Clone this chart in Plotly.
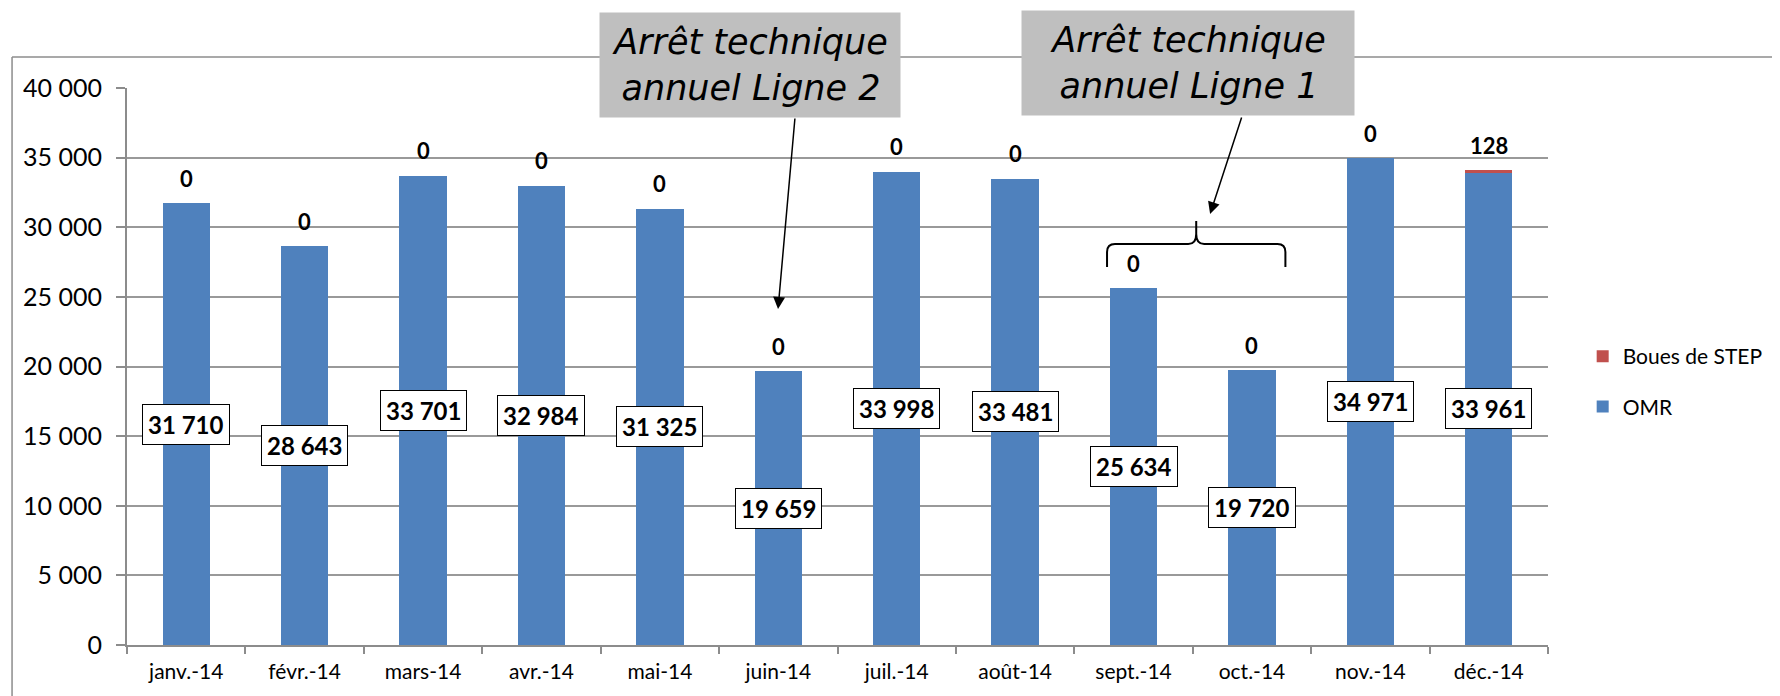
import plotly.graph_objects as go

months = ["janv.-14", "févr.-14", "mars-14", "avr.-14", "mai-14", "juin-14",
          "juil.-14", "août-14", "sept.-14", "oct.-14", "nov.-14", "déc.-14"]
omr = [31710, 28643, 33701, 32984, 31325, 19659, 33998, 33481, 25634, 19720, 34971, 33961]
boues = [0, 0, 0, 0, 0, 0, 0, 0, 0, 0, 0, 128]

W, H = 1780, 696
OFF = 8  # page body margin
L, R, T, B = 127, 1561, 88, 645  # plot area in page pixels


def px(x, y):
    """page pixel position -> paper coords"""
    return (x - L) / (R - L), (B - y) / (B - T)


def fmt(v):
    return f"{v:,}".replace(",", " ")


fig = go.Figure()
fig.add_trace(go.Bar(x=months, y=omr, name="OMR", marker=dict(color="#4F81BD", line=dict(width=0)),
                     legendgroup="omr", legendrank=2))
fig.add_trace(go.Bar(x=months, y=boues, name="Boues de STEP",
                     marker=dict(color="#C0504D", line=dict(width=0)), legendgroup="boues",
                     legendrank=1))

# boxed OMR labels in the middle of each bar
for m, v in zip(months, omr):
    fig.add_annotation(x=m, y=v / 2, text=f"<b>{fmt(v)}</b>", showarrow=False,
                       font=dict(family="Lato", size=24, color="black"),
                       bgcolor="white", bordercolor="black", borderwidth=1, borderpad=5)

# Boues labels above the stack
for m, v, b in zip(months, omr, boues):
    fig.add_annotation(x=m, y=v + b, text=f"<b>{fmt(b)}</b>", showarrow=False, yshift=25,
                       font=dict(family="Lato", size=22, color="black"))

# outer chart border (top + left)
x0, y0 = px(11, 57)
x1, y1 = px(1800, 710)
fig.add_shape(type="line", xref="paper", yref="paper", x0=x0, y0=y0, x1=x1, y1=y0,
              line=dict(color="#8C8C8C", width=1.5))
fig.add_shape(type="line", xref="paper", yref="paper", x0=x0, y0=y0, x1=x0, y1=y1,
              line=dict(color="#8C8C8C", width=1.5))

# grey callout boxes
callouts = [
    ("Arrêt technique<br>annuel Ligne 2", 606, 906, 13, 117),
    ("Arrêt technique<br>annuel Ligne 1", 1032, 1364, 11, 115),
]
for txt, bx0, bx1, by0, by1 in callouts:
    cx, cy = px((bx0 + bx1) / 2, (by0 + by1) / 2)
    fig.add_annotation(xref="paper", yref="paper", x=cx, y=cy, text=f"<i>{txt}</i>",
                       showarrow=False, width=bx1 - bx0, height=by1 - by0, borderpad=0,
                       bgcolor="#BFBFBF", font=dict(family="DejaVu Sans", size=35, color="black"),
                       xanchor="center", yanchor="middle")

# arrows
for tip, tail in [((784, 309), (801, 117)), ((1220, 214), (1252, 116))]:
    tx, ty = px(*tip)
    fig.add_annotation(xref="paper", yref="paper", x=tx, y=ty, text="", showarrow=True,
                       ax=tail[0] - tip[0], ay=tail[1] - tip[1], arrowhead=2, arrowsize=1.6,
                       arrowwidth=1.5, arrowcolor="black")

# curly brace over sept./oct.
pts = [
    ("M", [(1116, 267)]), ("L", [(1116, 252)]), ("Q", [(1116, 244), (1124, 244)]),
    ("L", [(1198, 244)]), ("Q", [(1206, 244), (1206, 234)]), ("L", [(1206, 221)]),
    ("M", [(1206, 234)]), ("Q", [(1206, 244), (1214, 244)]), ("L", [(1288, 244)]),
    ("Q", [(1296, 244), (1296, 252)]), ("L", [(1296, 267)]),
]
path = ""
for cmd, ps in pts:
    path += cmd + " ".join("{:.5f},{:.5f}".format(*px(a, b)) for a, b in ps) + " "
fig.add_shape(type="path", xref="paper", yref="paper", path=path.strip(),
              line=dict(color="black", width=2))

fig.update_layout(
    width=W - OFF, height=H - OFF,
    margin=dict(l=L - OFF, r=W - R, t=T - OFF, b=H - B),
    barmode="stack", bargap=0.6,
    plot_bgcolor="white", paper_bgcolor="white",
    separators=", ",
    font=dict(family="Lato", color="black"),
    showlegend=True,
    legend=dict(x=px(1596, 0)[0], y=px(0, 336)[1], xanchor="left", yanchor="top",
                traceorder="grouped", tracegroupgap=20,
                font=dict(family="Lato", size=21, color="black"), bgcolor="rgba(0,0,0,0)"),
    xaxis=dict(type="category", showline=True, linecolor="#8C8C8C", linewidth=2,
               ticks="outside", ticklen=7, tickcolor="#8C8C8C", tickwidth=2, tickson="boundaries",
               tickfont=dict(family="Lato", size=21, color="black"), showgrid=False,
               ticklabelstandoff=7),
    yaxis=dict(range=[0, 40000], dtick=5000, tickformat=",d", showline=True, linecolor="#8C8C8C",
               linewidth=2, ticks="outside", ticklen=9, tickcolor="#8C8C8C", tickwidth=2,
               showgrid=True, gridcolor="#999999", gridwidth=2, zeroline=False,
               tickfont=dict(family="Lato", size=25, color="black"), ticklabelstandoff=9),
)

fig.write_html("out.html")
